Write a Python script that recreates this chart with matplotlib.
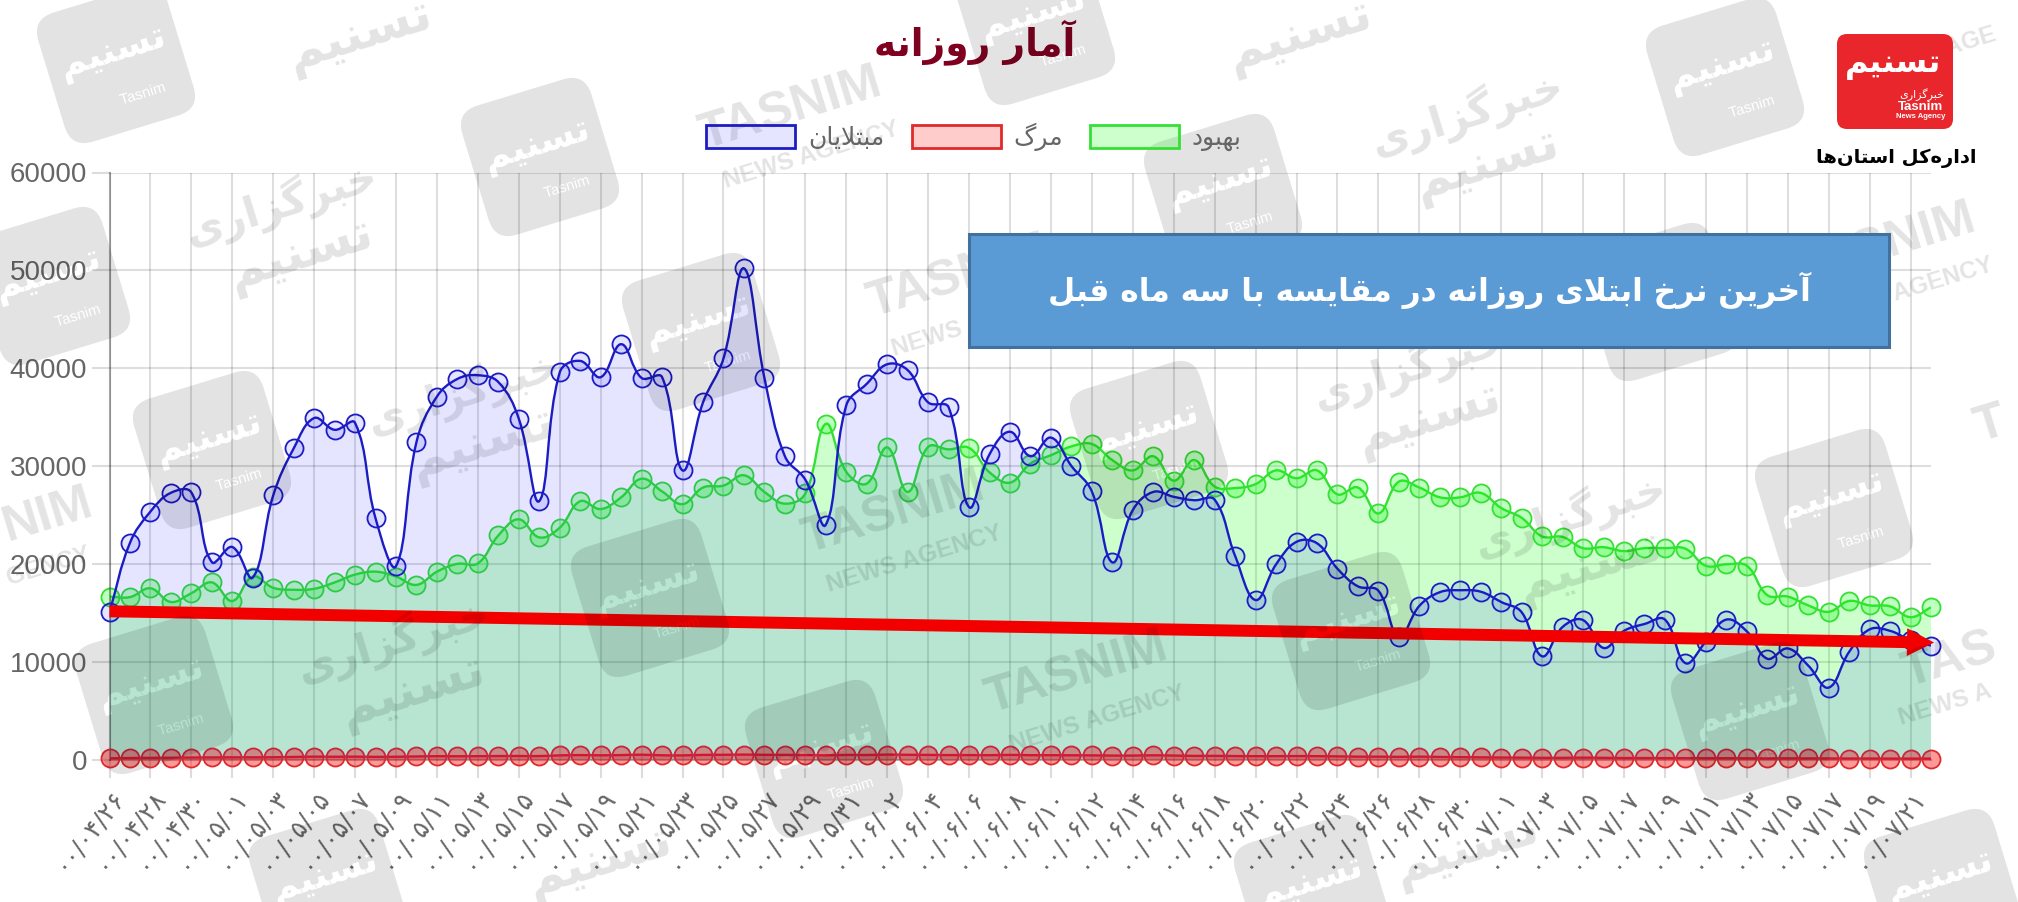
import matplotlib
matplotlib.use('Agg')
import numpy as np
import matplotlib.pyplot as plt
from matplotlib.font_manager import FontProperties
from matplotlib.patches import BoxStyle, Patch, PathPatch, Rectangle
from matplotlib.path import Path
from matplotlib.textpath import TextPath
from matplotlib.transforms import Affine2D

''' Data '''
tick_labels = [
    '۰۰/۰۴/۲۶', '۰۰/۰۴/۲۸', '۰۰/۰۴/۳۰',
    '۰۰/۰۵/۰۱', '۰۰/۰۵/۰۳', '۰۰/۰۵/۰۵', '۰۰/۰۵/۰۷', '۰۰/۰۵/۰۹', '۰۰/۰۵/۱۱',
    '۰۰/۰۵/۱۳', '۰۰/۰۵/۱۵', '۰۰/۰۵/۱۷', '۰۰/۰۵/۱۹', '۰۰/۰۵/۲۱', '۰۰/۰۵/۲۳',
    '۰۰/۰۵/۲۵', '۰۰/۰۵/۲۷', '۰۰/۰۵/۲۹', '۰۰/۰۵/۳۱',
    '۰۰/۰۶/۰۲', '۰۰/۰۶/۰۴', '۰۰/۰۶/۰۶', '۰۰/۰۶/۰۸', '۰۰/۰۶/۱۰', '۰۰/۰۶/۱۲',
    '۰۰/۰۶/۱۴', '۰۰/۰۶/۱۶', '۰۰/۰۶/۱۸', '۰۰/۰۶/۲۰', '۰۰/۰۶/۲۲', '۰۰/۰۶/۲۴',
    '۰۰/۰۶/۲۶', '۰۰/۰۶/۲۸', '۰۰/۰۶/۳۰',
    '۰۰/۰۷/۰۱', '۰۰/۰۷/۰۳', '۰۰/۰۷/۰۵', '۰۰/۰۷/۰۷', '۰۰/۰۷/۰۹', '۰۰/۰۷/۱۱',
    '۰۰/۰۷/۱۳', '۰۰/۰۷/۱۵', '۰۰/۰۷/۱۷', '۰۰/۰۷/۱۹', '۰۰/۰۷/۲۱',
]

# one value per day, 90 days
infected = [
    15060, 22140, 25340, 27260, 27300, 20180, 21720, 18600, 27000, 31800,
    34900, 33700, 34400, 24640, 19770, 32460, 37100, 38900, 39280, 38580,
    34830, 26420, 39570, 40740, 39080, 42450, 39000, 39080, 29550, 36500,
    41000, 50200, 39000, 31000, 28600, 24000, 36200, 38400, 40400, 39800,
    36500, 36000, 25800, 31200, 33500, 31000, 32900, 30000, 27400, 20150,
    25500, 27350, 26850, 26500, 26550, 20800, 16300, 19950, 22250, 22100,
    19500, 17700, 17250, 12500, 15700, 17100, 17300, 17150, 16100, 15050,
    10550, 13550, 14250, 11400, 13150, 13850, 14300, 9850, 12050, 14300,
    13100, 10300, 11350, 9600, 7350, 11000, 13300, 13150, 12200, 11650,
]
recovered = [
    16650, 16600, 17500, 16100, 17000, 18100, 16200, 18700, 17550, 17350,
    17450, 18100, 18900, 19200, 18700, 17850, 19200, 20000, 20050, 22900,
    24550, 22700, 23700, 26400, 25600, 26800, 28700, 27400, 26100, 27800,
    28000, 29050, 27350, 26150, 27200, 34300, 29400, 28200, 31900, 27350,
    31950, 31700, 31850, 29350, 28300, 30250, 31100, 32000, 32250, 30600,
    29550, 31000, 28500, 30600, 27900, 27750, 28150, 29550, 28750, 29550,
    27100, 27800, 25150, 28400, 27800, 26800, 26800, 27250, 25700, 24700,
    22800, 22750, 21600, 21700, 21300, 21600, 21600, 21550, 19800, 19950,
    19800, 16800, 16650, 15750, 15100, 16200, 15750, 15650, 14550, 15550,
]
deaths = [
    120, 150, 170, 180, 200, 210, 220, 220, 230, 260,
    290, 280, 290, 270, 280, 310, 340, 330, 340, 350,
    360, 350, 420, 450, 430, 450, 490, 430, 420, 470,
    480, 500, 480, 470, 450, 430, 470, 460, 500, 480,
    470, 450, 450, 440, 470, 440, 440, 430, 420, 400,
    400, 430, 400, 370, 370, 350, 340, 340, 350, 340,
    320, 290, 290, 270, 290, 260, 240, 220, 200, 190,
    170, 170, 190, 170, 150, 150, 140, 140, 130, 130,
    120, 110, 120, 110, 110, 100, 100, 90, 90, 90,
]

title_text = 'آمار روزانه'
box_text = 'آخرین نرخ ابتلای روزانه در مقایسه با سه ماه قبل'
office_text = 'اداره\u200cکل استان\u200cها'
legend_labels = ['مبتلایان', 'مرگ', 'بهبود']
arrow_start = 15150
arrow_end = 11950

# watermark centres, in pixels of the picture
wm_logos = [(116, 64), (540, 157), (1036, 26), (1223, 193), (1725, 77), (1834, 508),
            (51, 286), (212, 450), (701, 332), (1660, 302), (650, 598), (154, 695),
            (824, 759), (1351, 631), (1750, 721), (328, 888), (1943, 888),
            (1313, 894), (1149, 440)]
wm_latin = [(791, 109), (959, 277), (1885, 245), (894, 513), (1077, 673)]
wm_persian = [(281, 203), (1467, 113), (463, 392), (1409, 367), (1570, 515), (393, 640)]
wm_persian_single = [(360, 36), (1300, 36), (600, 862), (1467, 850)]
# what is left of the words that run off the edges
wm_latin_big = [(48, 515, 'NIM'), (1950, 660, 'TAS'), (1990, 425, 'T')]
wm_latin_small = [(48, 566, 'GENCY'), (1945, 705, 'NEWS A'), (1960, 45, 'S AGE')]

''' Persian shaping, matplotlib does not join the letters by itself '''
# isolated, final, initial, medial
FORMS = {
    'ا': (0xFE8D, 0xFE8E), 'آ': (0xFE81, 0xFE82), 'د': (0xFEA9, 0xFEAA),
    'ر': (0xFEAD, 0xFEAE), 'ز': (0xFEAF, 0xFEB0), 'و': (0xFEED, 0xFEEE),
    'ب': (0xFE8F, 0xFE90, 0xFE91, 0xFE92), 'پ': (0xFB56, 0xFB57, 0xFB58, 0xFB59),
    'ت': (0xFE95, 0xFE96, 0xFE97, 0xFE98), 'خ': (0xFEA5, 0xFEA6, 0xFEA7, 0xFEA8),
    'س': (0xFEB1, 0xFEB2, 0xFEB3, 0xFEB4), 'ق': (0xFED5, 0xFED6, 0xFED7, 0xFED8),
    'ک': (0xFB8E, 0xFB8F, 0xFB90, 0xFB91), 'گ': (0xFB92, 0xFB93, 0xFB94, 0xFB95),
    'ل': (0xFEDD, 0xFEDE, 0xFEDF, 0xFEE0), 'م': (0xFEE1, 0xFEE2, 0xFEE3, 0xFEE4),
    'ن': (0xFEE5, 0xFEE6, 0xFEE7, 0xFEE8), 'ه': (0xFEE9, 0xFEEA, 0xFEEB, 0xFEEC),
    'ی': (0xFBFC, 0xFBFD, 0xFBFE, 0xFBFF),
}


def shape(text):
    out = []
    i = 0
    joined = False  # does the previous letter reach out to this one
    while i < len(text):
        c = text[i]
        if c not in FORMS:
            if c != '\u200c':
                out.append(c)
            joined = False
            i += 1
            continue
        if c == 'ل' and i + 1 < len(text) and text[i + 1] == 'ا':
            out.append(chr(0xFEFC if joined else 0xFEFB))
            joined = False
            i += 2
            continue
        forms = FORMS[c]
        next_ok = i + 1 < len(text) and text[i + 1] in FORMS
        if len(forms) == 2:
            out.append(chr(forms[1] if joined else forms[0]))
            joined = False
        else:
            if joined:
                out.append(chr(forms[3] if next_ok else forms[1]))
            else:
                out.append(chr(forms[2] if next_ok else forms[0]))
            joined = next_ok
        i += 1
    return ''.join(reversed(out))


def spline_path(ax, xs, ys, close_to=None):
    # bezier curve with the control points Chart.js uses, tension 0.4
    pts = ax.transData.transform(np.column_stack([xs, ys]))
    verts = [pts[0]]
    codes = [Path.MOVETO]
    n = len(pts)
    for i in range(n - 1):
        a, b = pts[i], pts[i + 1]
        prev_p = pts[max(i - 1, 0)]
        next_p = pts[min(i + 2, n - 1)]
        d0 = np.hypot(*(a - prev_p))
        d1 = np.hypot(*(b - a))
        d2 = np.hypot(*(next_p - b))
        c1 = a + 0.4 * d1 / (d0 + d1) * (b - prev_p)
        c2 = b - 0.4 * d1 / (d1 + d2) * (next_p - a)
        verts += [c1, c2, b]
        codes += [Path.CURVE4] * 3
    verts = ax.transData.inverted().transform(np.array(verts))
    if close_to is not None:
        verts = np.vstack([verts, [xs[-1], close_to], [xs[0], close_to], [xs[0], close_to]])
        codes += [Path.LINETO, Path.LINETO, Path.CLOSEPOLY]
    return Path(verts, codes)


''' Chart '''
fig = plt.figure(figsize=(20.18, 9.02), dpi=100, facecolor='white')
ax = fig.add_axes([109.5 / 2018, (902 - 759.5) / 902, (1931 - 109.5) / 2018, (759.5 - 172.5) / 902])

days = np.arange(len(infected))
ax.set_xlim(0, len(infected) - 1)
ax.set_ylim(0, 60000)

series = [
    (recovered, (0, 1, 0, 0.2), '#35e035', (0, 1, 0, 0.25)),
    (deaths, (1, 0, 0, 0.2), '#e02a2a', (1, 0, 0, 0.4)),
    (infected, (0, 0, 1, 0.1), '#1c1cc4', (0, 0, 1, 0.1)),
]
for z, (values, fill, edge, face) in enumerate(series):
    ax.add_patch(PathPatch(spline_path(ax, days, values, close_to=0), fc=fill, ec='none', zorder=2 + z))
    ax.add_patch(PathPatch(spline_path(ax, days, values), fc='none', ec=edge, lw=1.7, zorder=2 + z))
    ax.plot(days, values, ls='none', marker='o', ms=13, mfc=face, mec=edge, mew=1.3,
            clip_on=False, zorder=2 + z)

ax.set_xticks(days[::2])
ax.set_xticklabels(tick_labels, rotation=52, ha='right', rotation_mode='anchor',
                   fontsize=18, color='#666666', family='DejaVu Sans')
ax.set_yticks(range(0, 60001, 10000))
ax.set_yticklabels([str(v) for v in range(0, 60001, 10000)], fontsize=20, color='#666666',
                   family='Liberation Sans')
ax.grid(True, color='black', alpha=0.13, lw=1.5)
ax.set_axisbelow(True)
ax.tick_params(axis='x', length=13, width=1.5, color='#dcdcdc', pad=5)
ax.tick_params(axis='y', length=13, width=1.5, color='#dcdcdc', pad=3)
for side in ('top', 'right'):
    ax.spines[side].set_visible(False)
ax.spines['bottom'].set_color((0, 0, 0, 0.3))
ax.spines['left'].set_color((0, 0, 0, 0.35))
ax.spines['bottom'].set_linewidth(1.5)
ax.spines['left'].set_linewidth(1.5)

ax.annotate('', xy=(89.15, arrow_end), xytext=(0, arrow_start), zorder=8, annotation_clip=False,
            arrowprops=dict(width=8.6, headwidth=20, headlength=19.5, shrink=0,
                            fc='#f20000', ec='none'))

fig.text(975 / 2018, 1 - 42 / 902, shape(title_text), fontsize=27, fontweight='bold',
         color='#800020', ha='center', va='center', family='DejaVu Sans')

handles = [Patch(fc=(0, 0, 1, 0.1), ec='#1c1cc4', lw=2),
           Patch(fc=(1, 0, 0, 0.2), ec='#e02a2a', lw=2),
           Patch(fc=(0, 1, 0, 0.2), ec='#35e035', lw=2)]
fig.legend(handles, [shape(t) for t in legend_labels], ncol=3, frameon=False,
           loc='center', bbox_to_anchor=(974 / 2018, 1 - 137 / 902), fontsize=18,
           handlelength=3.56, handleheight=1.08, handletextpad=0.5, columnspacing=1.1,
           labelcolor='#666666', borderpad=0)

''' Overlay in picture pixels: watermarks, box and logo '''
ov = fig.add_axes([0, 0, 1, 1], facecolor='none', zorder=5)
ov.set_xlim(0, 2018)
ov.set_ylim(902, 0)
ov.axis('off')

WM = (0, 0, 0, 0.11)
bold = FontProperties(family='DejaVu Sans', weight='bold')


def logo_path(side):
    box = BoxStyle('Round', pad=0, rounding_size=side * 0.17)(-side / 2, -side / 2, side, side, 1)
    big = TextPath((0, 0), shape('تسنیم'), size=side * 0.27, prop=bold)
    ext = big.get_extents()
    big = big.transformed(Affine2D().translate(-ext.x0 - ext.width / 2, side * 0.02))
    small = TextPath((0, 0), 'Tasnim', size=side * 0.11, prop=FontProperties(family='Liberation Sans'))
    small = small.transformed(Affine2D().translate(-side * 0.05, -side * 0.3))
    return Path.make_compound_path(box, big, small)


def wm_text(x, y, text, size, family='Liberation Sans', weight='bold'):
    ov.text(x, y, text, fontsize=size, family=family, fontweight=weight, color=WM, rotation=17,
            ha='center', va='center', rotation_mode='anchor', zorder=1)


for cx, cy in wm_logos:
    tr = Affine2D().rotate_deg(17).scale(1, -1).translate(cx, cy) + ov.transData
    ov.add_patch(PathPatch(logo_path(135), transform=tr, fc=WM, ec='none', zorder=1))

for cx, cy in wm_latin:
    wm_text(cx, cy, 'TASNIM', 36)
    wm_text(cx + 20, cy + 46, 'NEWS AGENCY', 17.5)
for cx, cy, word in wm_latin_big:
    wm_text(cx, cy, word, 36)
for cx, cy, word in wm_latin_small:
    wm_text(cx, cy, word, 17.5)

for cx, cy in wm_persian:
    wm_text(cx, cy, shape('خبرگزاری'), 30, 'DejaVu Sans')
    wm_text(cx + 20, cy + 52, shape('تسنیم'), 36, 'DejaVu Sans')
for cx, cy in wm_persian_single:
    wm_text(cx, cy, shape('تسنیم'), 36, 'DejaVu Sans')

ov.add_patch(Rectangle((969, 234), 920, 113, fc='#5b9bd5', ec='#41719c', lw=2.2, zorder=3))
ov.text(1429, 290, shape(box_text), fontsize=22.5, fontweight='bold', color='white',
        ha='center', va='center', family='DejaVu Sans', zorder=4)

tr = Affine2D().scale(1, -1).translate(1895, 81.5) + ov.transData
ov.add_patch(PathPatch(BoxStyle('Round', pad=0, rounding_size=10)(-58, -47.5, 116, 95, 1),
                       transform=tr, fc='#e9262c', ec='none', zorder=3))
ov.text(1893, 64, shape('تسنیم'), fontsize=23, fontweight='bold', color='white',
        ha='center', va='center', family='DejaVu Sans', zorder=4)
ov.text(1922, 95, shape('خبرگزاری'), fontsize=8, color='white', ha='center', va='center',
        family='DejaVu Sans', zorder=4)
ov.text(1921, 107, 'Tasnim', fontsize=9.5, fontweight='bold', color='white', ha='center', va='center',
        family='Liberation Sans', zorder=4)
ov.text(1921, 116, 'News Agency', fontsize=5.5, fontweight='bold', color='white', ha='center',
        va='center', family='Liberation Sans', zorder=4)
ov.text(1896, 158, shape(office_text), fontsize=14, fontweight='bold', color='black',
        ha='center', va='center', family='DejaVu Sans', zorder=4)

fig.savefig('out.png', dpi=100)
